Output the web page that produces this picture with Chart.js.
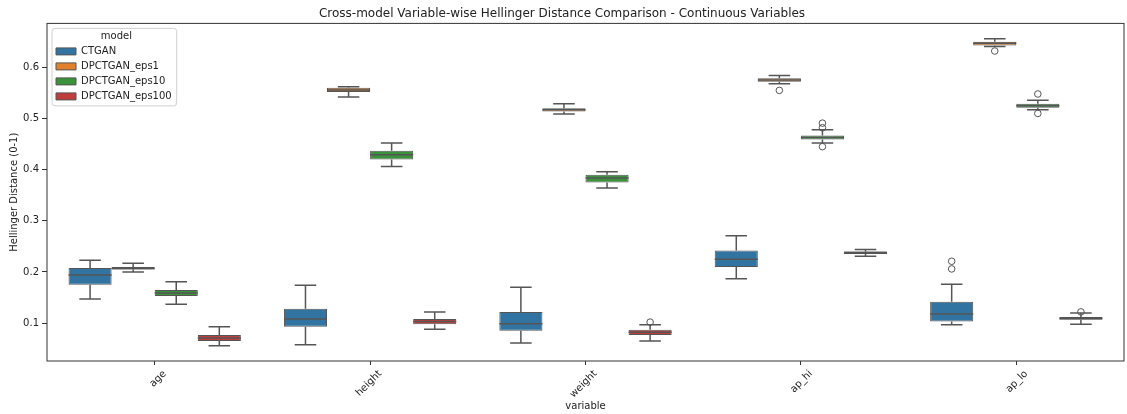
<!DOCTYPE html>
<html>
<head>
<meta charset="utf-8">
<script src="https://cdn.jsdelivr.net/npm/chart.js@4.4.1/dist/chart.umd.min.js"></script>
<style>
  html, body { margin: 0; padding: 0; background: #fff; }
  #wrap { width: 1127px; height: 414px; position: relative; }
</style>
</head>
<body>
<div id="wrap"><canvas id="graph"></canvas></div>
<script>
const variables = ["age", "height", "weight", "ap_hi", "ap_lo"];
const models = ["CTGAN", "DPCTGAN_eps1", "DPCTGAN_eps10", "DPCTGAN_eps100"];
const colors = ["#3274a1", "#e1812c", "#3a923a", "#c03d3e"];
const yTicks = [0.1, 0.2, 0.3, 0.4, 0.5, 0.6];

// [whisker low, q1, median, q3, whisker high] for each variable
const ctgan = [
  [0.147, 0.175, 0.194, 0.208, 0.223],
  [0.058, 0.093, 0.108, 0.128, 0.174],
  [0.061, 0.085, 0.099, 0.122, 0.170],
  [0.187, 0.210, 0.225, 0.242, 0.271],
  [0.097, 0.103, 0.118, 0.142, 0.176]
];
const eps1 = [
  [0.200, 0.205, 0.207, 0.210, 0.217],
  [0.542, 0.552, 0.556, 0.560, 0.562],
  [0.509, 0.514, 0.517, 0.520, 0.529],
  [0.568, 0.572, 0.5755, 0.579, 0.584],
  [0.641, 0.643, 0.647, 0.650, 0.656]
];
const eps10 = [
  [0.137, 0.153, 0.159, 0.165, 0.181],
  [0.406, 0.420, 0.429, 0.437, 0.452],
  [0.364, 0.375, 0.384, 0.390, 0.396],
  [0.452, 0.459, 0.463, 0.467, 0.478],
  [0.517, 0.521, 0.525, 0.529, 0.536]
];
const eps100 = [
  [0.056, 0.065, 0.071, 0.077, 0.093],
  [0.088, 0.098, 0.103, 0.108, 0.122],
  [0.065, 0.077, 0.082, 0.087, 0.097],
  [0.231, 0.235, 0.238, 0.240, 0.244],
  [0.098, 0.1065, 0.109, 0.112, 0.120]
];

// outliers for each variable
const ctganOut = [[], [], [], [], [0.221, 0.206]];
const eps1Out = [[], [], [], [0.555], [0.632]];
const eps10Out = [[], [], [], [0.491, 0.482, 0.445], [0.548, 0.510]];
const eps100Out = [[], [], [0.102], [], [0.122]];

const boxStats = [ctgan, eps1, eps10, eps100];
const outliers = [ctganOut, eps1Out, eps10Out, eps100Out];
const lineColor = "#555555";

Chart.defaults.font.family = "'DejaVu Sans', sans-serif";
Chart.defaults.color = "#222";

// whiskers, caps, medians and fliers on top of the floating bars
const whiskers = {
  id: "whiskers",
  afterDatasetsDraw(chart) {
    const ctx = chart.ctx;
    const y = chart.scales.y;
    ctx.save();
    ctx.strokeStyle = lineColor;
    ctx.lineWidth = 1.5;
    boxStats.forEach((stats, d) => {
      chart.getDatasetMeta(d).data.forEach((bar, i) => {
        const [lo, q1, med, q3, hi] = stats[i];
        const half = bar.width / 2;
        const cap = bar.width / 4;
        ctx.beginPath();
        ctx.moveTo(bar.x, y.getPixelForValue(q3));
        ctx.lineTo(bar.x, y.getPixelForValue(hi));
        ctx.moveTo(bar.x - cap, y.getPixelForValue(hi));
        ctx.lineTo(bar.x + cap, y.getPixelForValue(hi));
        ctx.moveTo(bar.x, y.getPixelForValue(q1));
        ctx.lineTo(bar.x, y.getPixelForValue(lo));
        ctx.moveTo(bar.x - cap, y.getPixelForValue(lo));
        ctx.lineTo(bar.x + cap, y.getPixelForValue(lo));
        ctx.moveTo(bar.x - half, y.getPixelForValue(med));
        ctx.lineTo(bar.x + half, y.getPixelForValue(med));
        ctx.stroke();
        outliers[d][i].forEach(v => {
          ctx.beginPath();
          ctx.arc(bar.x, y.getPixelForValue(v), 3.3, 0, Math.PI * 2);
          ctx.lineWidth = 1;
          ctx.stroke();
          ctx.lineWidth = 1.5;
        });
      });
    });
    ctx.restore();
  }
};

function roundRect(ctx, x, y, w, h, r) {
  ctx.beginPath();
  ctx.moveTo(x + r, y);
  ctx.arcTo(x + w, y, x + w, y + h, r);
  ctx.arcTo(x + w, y + h, x, y + h, r);
  ctx.arcTo(x, y + h, x, y, r);
  ctx.arcTo(x, y, x + w, y, r);
  ctx.closePath();
}

// matplotlib style: legend frame and full axes box
const frame = {
  id: "frame",
  afterLayout(chart) {
    chart.legend.left = chart.chartArea.left + 4;
    chart.legend.top = chart.chartArea.top + 5;
  },
  beforeDraw(chart) {
    const boxes = chart.legend.legendHitBoxes;
    if (!boxes || !boxes.length) return;
    const ctx = chart.ctx;
    const left = Math.min(...boxes.map(b => b.left)) - 4;
    const right = Math.max(...boxes.map(b => b.left + b.width)) + 5;
    const top = boxes[0].top + boxes[0].height / 2 - 23;
    const last = boxes[boxes.length - 1];
    const bottom = last.top + last.height / 2 + 9.5;
    ctx.save();
    roundRect(ctx, left, top, right - left, bottom - top, 3);
    ctx.fillStyle = "rgba(255,255,255,0.8)";
    ctx.fill();
    ctx.strokeStyle = "#d0d0d0";
    ctx.lineWidth = 1;
    ctx.stroke();
    ctx.restore();
  },
  afterDraw(chart) {
    const a = chart.chartArea;
    const ctx = chart.ctx;
    ctx.save();
    ctx.strokeStyle = "#333";
    ctx.lineWidth = 1;
    ctx.strokeRect(a.left, a.top, a.right - a.left, a.bottom - a.top);
    ctx.restore();
  }
};

const ctx = document.getElementById("graph").getContext("2d");

new Chart(ctx, {
  type: "bar",
  data: {
    labels: variables,
    datasets: models.map((m, d) => ({
      label: m,
      data: boxStats[d].map(s => [s[1], s[3]]),
      backgroundColor: colors[d],
      borderColor: lineColor,
      borderWidth: 1,
      borderSkipped: false,
      categoryPercentage: 0.8,
      barPercentage: 1
    }))
  },
  options: {
    responsive: true,
    maintainAspectRatio: false,
    animation: false,
    layout: { padding: { left: 0, right: 3, top: 0, bottom: 0 } },
    plugins: {
      title: {
        display: true,
        text: "Cross-model Variable-wise Hellinger Distance Comparison - Continuous Variables",
        font: { size: 12, weight: "normal" },
        color: "#222",
        padding: { top: 7, bottom: 2 }
      },
      legend: {
        position: "chartArea",
        align: "start",
        title: {
          display: true,
          text: "model",
          font: { size: 10 },
          color: "#222",
          padding: { top: 3, bottom: -2 }
        },
        labels: { boxWidth: 20, boxHeight: 7, padding: 5, font: { size: 10 }, color: "#222" }
      },
      tooltip: { enabled: false }
    },
    scales: {
      x: {
        grid: { display: true, drawOnChartArea: false, offset: false, tickLength: 4, color: "#333" },
        border: { display: false },
        ticks: { minRotation: 45, maxRotation: 45, labelOffset: 10, font: { size: 10 }, color: "#222" },
        title: { display: true, text: "variable", font: { size: 10 }, color: "#222", padding: { top: 0, bottom: 2 } },
        afterFit(scale) { scale.height = 53; }
      },
      y: {
        min: 0.026,
        max: 0.686,
        afterBuildTicks(scale) { scale.ticks = yTicks.map(v => ({ value: v })); },
        grid: { drawOnChartArea: false, tickLength: 5, color: "#333" },
        border: { display: false },
        ticks: { padding: 3, font: { size: 10 }, color: "#222", callback: v => v.toFixed(1) },
        title: { display: true, text: "Hellinger Distance (0-1)", font: { size: 10 }, color: "#222", padding: { top: 8, bottom: 0 } },
        afterFit(scale) { scale.width = 47; }
      }
    }
  },
  plugins: [frame, whiskers]
});
</script>
</body>
</html>
